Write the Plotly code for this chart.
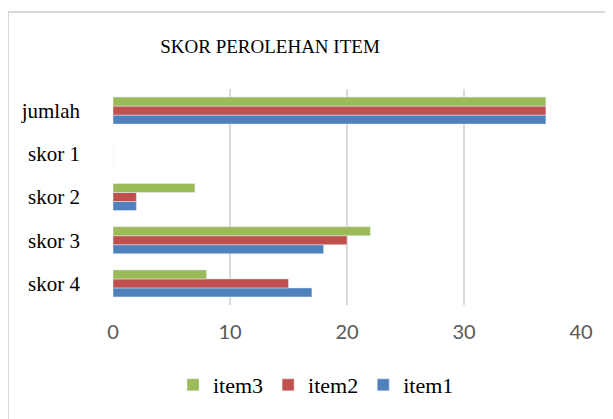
import plotly.graph_objects as go

# Data
categories = ["skor 4", "skor 3", "skor 2", "skor 1", "jumlah"]
item1 = [17, 18, 2, 0, 37]
item2 = [15, 20, 2, 0, 37]
item3 = [8, 22, 7, 0, 37]
x_ticks = [0, 10, 20, 30, 40]

fig = go.Figure()

# bars, item1 drawn first so it sits at the bottom of each group
fig.add_trace(go.Bar(y=categories, x=item1, name="item1", orientation="h",
                     marker=dict(color="#4F81BD")))
fig.add_trace(go.Bar(y=categories, x=item2, name="item2", orientation="h",
                     marker=dict(color="#C0504D")))
fig.add_trace(go.Bar(y=categories, x=item3, name="item3", orientation="h",
                     marker=dict(color="#9BBB59")))

# page body adds an 8px offset, so work in screen px minus OFF
OFF = 8
W, H = 613, 419
left, right, top, bottom = 113 - OFF, 581 - OFF, 89 - OFF, 305 - OFF
pw, ph = right - left, bottom - top


def px(x):
    return (x - OFF - left) / pw


def py(y):
    return (bottom - (y - OFF)) / ph


# outer chart frame (only top and left edges are visible)
frame = dict(type="line", xref="paper", yref="paper",
             line=dict(color="#d9d9d9", width=2))
fig.add_shape(frame, x0=px(8), x1=px(640), y0=py(12), y1=py(12))
fig.add_shape(frame, x0=px(8), x1=px(8), y0=py(12), y1=py(440))

fig.update_layout(
    width=W, height=H,
    margin=dict(l=left, r=W - right, t=top, b=H - bottom, autoexpand=False),
    paper_bgcolor="white", plot_bgcolor="white",
    barmode="group", bargap=0.375, bargroupgap=0,
    title=dict(text="SKOR PEROLEHAN ITEM", x=px(270), xref="paper",
               xanchor="center", y=1 - (46 - OFF) / H, yref="container",
               yanchor="middle",
               font=dict(family="Liberation Serif", size=19, color="#000000")),
    xaxis=dict(range=[0, 40], tickvals=x_ticks, showgrid=True,
               gridcolor="#d9d9d9", gridwidth=2, zeroline=False,
               showline=False, ticks="outside", ticklen=9,
               tickcolor="rgba(0,0,0,0)", automargin=False,
               tickfont=dict(family="Lato", size=20, color="#595959")),
    yaxis=dict(categoryorder="array", categoryarray=categories,
               showgrid=False, zeroline=False, showline=False,
               ticklabelstandoff=32, automargin=False,
               tickfont=dict(family="Liberation Serif", size=21, color="#000000")),
    legend=dict(orientation="h", traceorder="reversed",
                x=px(316), xanchor="center",
                y=py(385), yanchor="middle",
                font=dict(family="Liberation Serif", size=22, color="#000000")),
    showlegend=True,
)

fig.write_html("out.html")
